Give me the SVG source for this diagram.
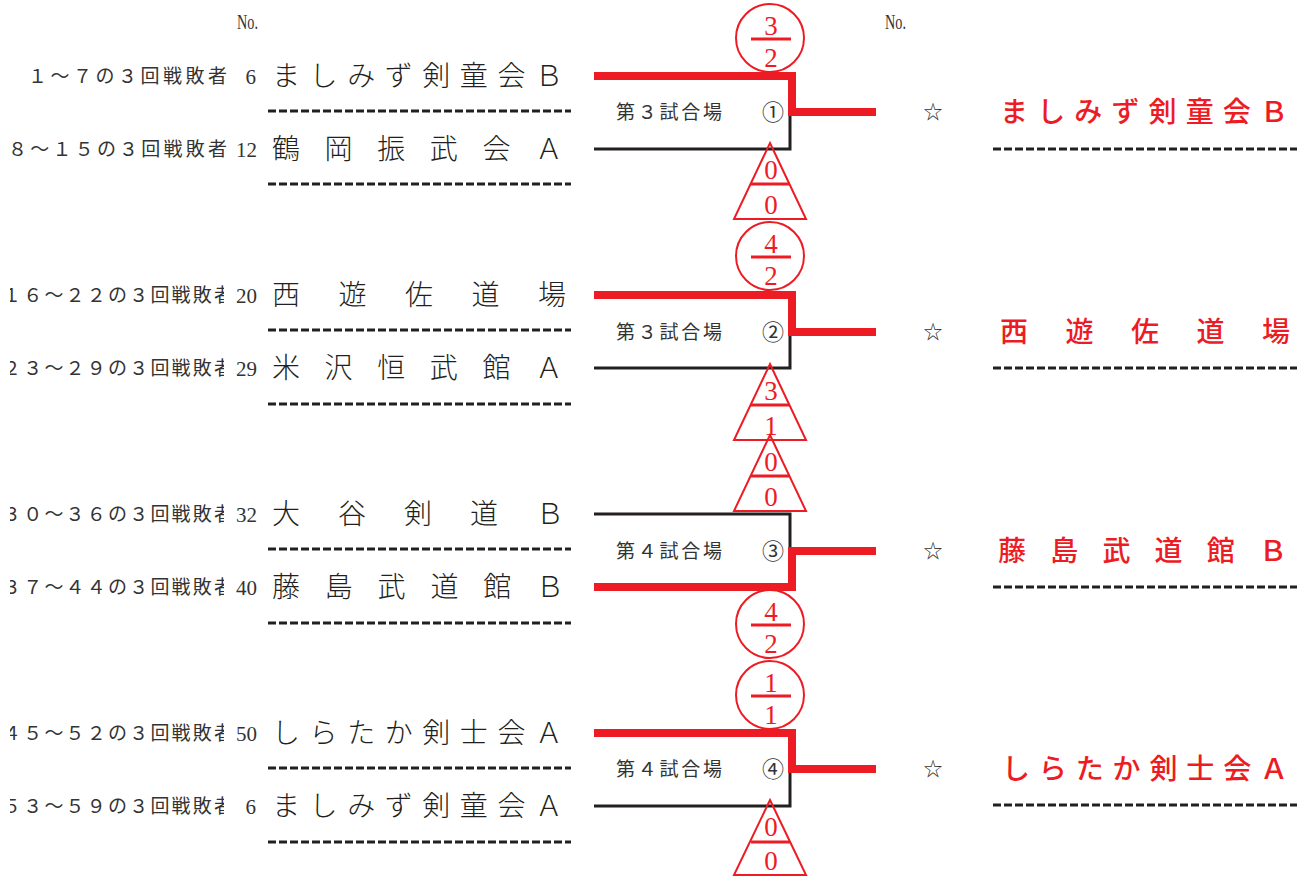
<svg xmlns="http://www.w3.org/2000/svg" width="1306" height="877" viewBox="0 0 1306 877">
<style>
.lbl{font-family:"Noto Sans CJK JP",sans-serif;font-size:19px;fill:#333}
.num{font-family:"Liberation Serif",serif;font-size:21px;fill:#333;text-anchor:end}
.no{font-family:"Liberation Serif",serif;font-size:20px;fill:#333}
.team{font-family:"Noto Sans CJK JP",sans-serif;font-size:28px;fill:#231f20;font-weight:300}
.win{font-family:"Noto Sans CJK JP",sans-serif;font-size:28px;fill:#ed1c24;font-weight:500}
.dash{stroke:#231f20;stroke-width:3;stroke-dasharray:8 3;fill:none}
.court{font-family:"Noto Sans CJK JP",sans-serif;font-size:19px;fill:#333}
.circ{font-family:"Noto Sans CJK JP",sans-serif;font-size:22px;fill:#333;text-anchor:middle}
.star{font-family:"Noto Sans CJK JP",sans-serif;font-size:19px;fill:#333;text-anchor:middle}
.red{stroke:#ed1c24;stroke-width:8;fill:none;stroke-linejoin:miter}
.blk{stroke:#231f20;stroke-width:3;fill:none}
.sc{stroke:#ed1c24;stroke-width:2;fill:none}
.bar{stroke:#ed1c24;stroke-width:3}
.dig{font-family:"Liberation Serif",serif;font-size:27px;fill:#ed1c24;text-anchor:middle}
</style>
<defs>
<clipPath id="lclip"><rect x="0" y="0" width="229" height="877"/></clipPath>
<clipPath id="lclip2"><rect x="10" y="0" width="214" height="877"/></clipPath>
</defs>

<g id="header">
<text class="no" x="237" y="29" textLength="21" lengthAdjust="spacingAndGlyphs">No.</text>
<text class="no" x="885" y="29" textLength="21" lengthAdjust="spacingAndGlyphs">No.</text>
</g>

<g id="connectors">
<path class="blk" d="M594,149 H790 V114"/>
<path class="red" d="M594,76 H792 V112 H876"/>
<path class="blk" d="M594,368 H790 V334"/>
<path class="red" d="M594,295 H792 V332 H876"/>
<path class="blk" d="M594,514 H790 V549"/>
<path class="red" d="M594,587 H792 V551 H876"/>
<path class="blk" d="M594,806 H790 V771"/>
<path class="red" d="M594,733 H792 V769 H876"/>
</g>

<g id="entries">
<g clip-path="url(#lclip)">
<text class="lbl" x="28" y="83" textLength="199" lengthAdjust="spacing">１～７の３回戦敗者</text>
<text class="lbl" x="8" y="156" textLength="219" lengthAdjust="spacing">８～１５の３回戦敗者</text>
</g>
<g clip-path="url(#lclip2)">
<text class="lbl" x="2" y="302" textLength="231" lengthAdjust="spacing">１６～２２の３回戦敗者</text>
<text class="lbl" x="2" y="375" textLength="231" lengthAdjust="spacing">２３～２９の３回戦敗者</text>
<text class="lbl" x="2" y="521" textLength="231" lengthAdjust="spacing">３０～３６の３回戦敗者</text>
<text class="lbl" x="2" y="594" textLength="231" lengthAdjust="spacing">３７～４４の３回戦敗者</text>
<text class="lbl" x="2" y="740" textLength="231" lengthAdjust="spacing">４５～５２の３回戦敗者</text>
<text class="lbl" x="2" y="813" textLength="231" lengthAdjust="spacing">５３～５９の３回戦敗者</text>
</g>
</g>

<g id="team1"><text class="num" x="256" y="84">6</text><text class="team" x="272" y="86" textLength="291" lengthAdjust="spacing">ましみず剣童会Ｂ</text><line class="dash" x1="268" y1="111" x2="571" y2="111"/></g>
<g id="team2"><text class="num" x="257" y="157">12</text><text class="team" x="272" y="159" textLength="291" lengthAdjust="spacing">鶴岡振武会Ａ</text><line class="dash" x1="268" y1="184" x2="571" y2="184"/></g>
<g id="team3"><text class="num" x="257" y="303">20</text><text class="team" x="272" y="305" textLength="294" lengthAdjust="spacing">西遊佐道場</text><line class="dash" x1="268" y1="330" x2="571" y2="330"/></g>
<g id="team4"><text class="num" x="257" y="376">29</text><text class="team" x="272" y="378" textLength="291" lengthAdjust="spacing">米沢恒武館Ａ</text><line class="dash" x1="268" y1="404" x2="571" y2="404"/></g>
<g id="team5"><text class="num" x="257" y="522">32</text><text class="team" x="272" y="524" textLength="292" lengthAdjust="spacing">大谷剣道Ｂ</text><line class="dash" x1="268" y1="549" x2="571" y2="549"/></g>
<g id="team6"><text class="num" x="257" y="595">40</text><text class="team" x="272" y="597" textLength="292" lengthAdjust="spacing">藤島武道館Ｂ</text><line class="dash" x1="268" y1="623" x2="571" y2="623"/></g>
<g id="team7"><text class="num" x="257" y="741">50</text><text class="team" x="272" y="743" textLength="291" lengthAdjust="spacing">しらたか剣士会Ａ</text><line class="dash" x1="268" y1="768" x2="571" y2="768"/></g>
<g id="team8"><text class="num" x="256" y="814">6</text><text class="team" x="272" y="816" textLength="291" lengthAdjust="spacing">ましみず剣童会Ａ</text><line class="dash" x1="268" y1="842" x2="571" y2="842"/></g>

<g id="match1"><text class="court" x="616" y="119" textLength="106" lengthAdjust="spacing">第３試合場</text><text class="circ" x="773" y="120">①</text></g>
<g id="match2"><text class="court" x="616" y="339" textLength="106" lengthAdjust="spacing">第３試合場</text><text class="circ" x="773" y="340">②</text></g>
<g id="match3"><text class="court" x="616" y="558" textLength="106" lengthAdjust="spacing">第４試合場</text><text class="circ" x="773" y="559">③</text></g>
<g id="match4"><text class="court" x="616" y="776" textLength="106" lengthAdjust="spacing">第４試合場</text><text class="circ" x="773" y="777">④</text></g>

<g id="score1a"><circle class="sc" cx="770" cy="38" r="34"/><line class="bar" x1="751" y1="39" x2="791" y2="39"/><text class="dig" x="771" y="35">3</text><text class="dig" x="771" y="67">2</text></g>
<g id="score1b"><polygon class="sc" points="770,143 806,219 734,219"/><line class="bar" x1="751" y1="184" x2="790" y2="184"/><text class="dig" x="771" y="179">0</text><text class="dig" x="771" y="214">0</text></g>
<g id="score2a"><circle class="sc" cx="770" cy="256" r="34"/><line class="bar" x1="751" y1="257" x2="791" y2="257"/><text class="dig" x="771" y="253">4</text><text class="dig" x="771" y="285">2</text></g>
<g id="score2b"><polygon class="sc" points="770,364 806,440 734,440"/><line class="bar" x1="751" y1="405" x2="790" y2="405"/><text class="dig" x="771" y="400">3</text><text class="dig" x="771" y="435">1</text></g>
<g id="score3a"><polygon class="sc" points="770,435 806,511 734,511"/><line class="bar" x1="751" y1="476" x2="790" y2="476"/><text class="dig" x="771" y="471">0</text><text class="dig" x="771" y="506">0</text></g>
<g id="score3b"><circle class="sc" cx="770" cy="624" r="34"/><line class="bar" x1="751" y1="625" x2="791" y2="625"/><text class="dig" x="771" y="621">4</text><text class="dig" x="771" y="653">2</text></g>
<g id="score4a"><circle class="sc" cx="770" cy="695" r="34"/><line class="bar" x1="751" y1="696" x2="791" y2="696"/><text class="dig" x="771" y="692">1</text><text class="dig" x="771" y="724">1</text></g>
<g id="score4b"><polygon class="sc" points="770,800 806,875 734,875"/><line class="bar" x1="751" y1="842" x2="790" y2="842"/><text class="dig" x="771" y="836">0</text><text class="dig" x="771" y="870">0</text></g>

<g id="winner1"><text class="star" x="933" y="119">☆</text><text class="win" x="1000" y="122" textLength="288" lengthAdjust="spacing">ましみず剣童会Ｂ</text><line class="dash" x1="993" y1="149" x2="1297" y2="149"/></g>
<g id="winner2"><text class="star" x="933" y="339">☆</text><text class="win" x="1000" y="342" textLength="290" lengthAdjust="spacing">西遊佐道場</text><line class="dash" x1="993" y1="368" x2="1297" y2="368"/></g>
<g id="winner3"><text class="star" x="933" y="558">☆</text><text class="win" x="998" y="561" textLength="289" lengthAdjust="spacing">藤島武道館Ｂ</text><line class="dash" x1="993" y1="587" x2="1297" y2="587"/></g>
<g id="winner4"><text class="star" x="933" y="776">☆</text><text class="win" x="1002" y="779" textLength="286" lengthAdjust="spacing">しらたか剣士会Ａ</text><line class="dash" x1="993" y1="805" x2="1297" y2="805"/></g>
</svg>
